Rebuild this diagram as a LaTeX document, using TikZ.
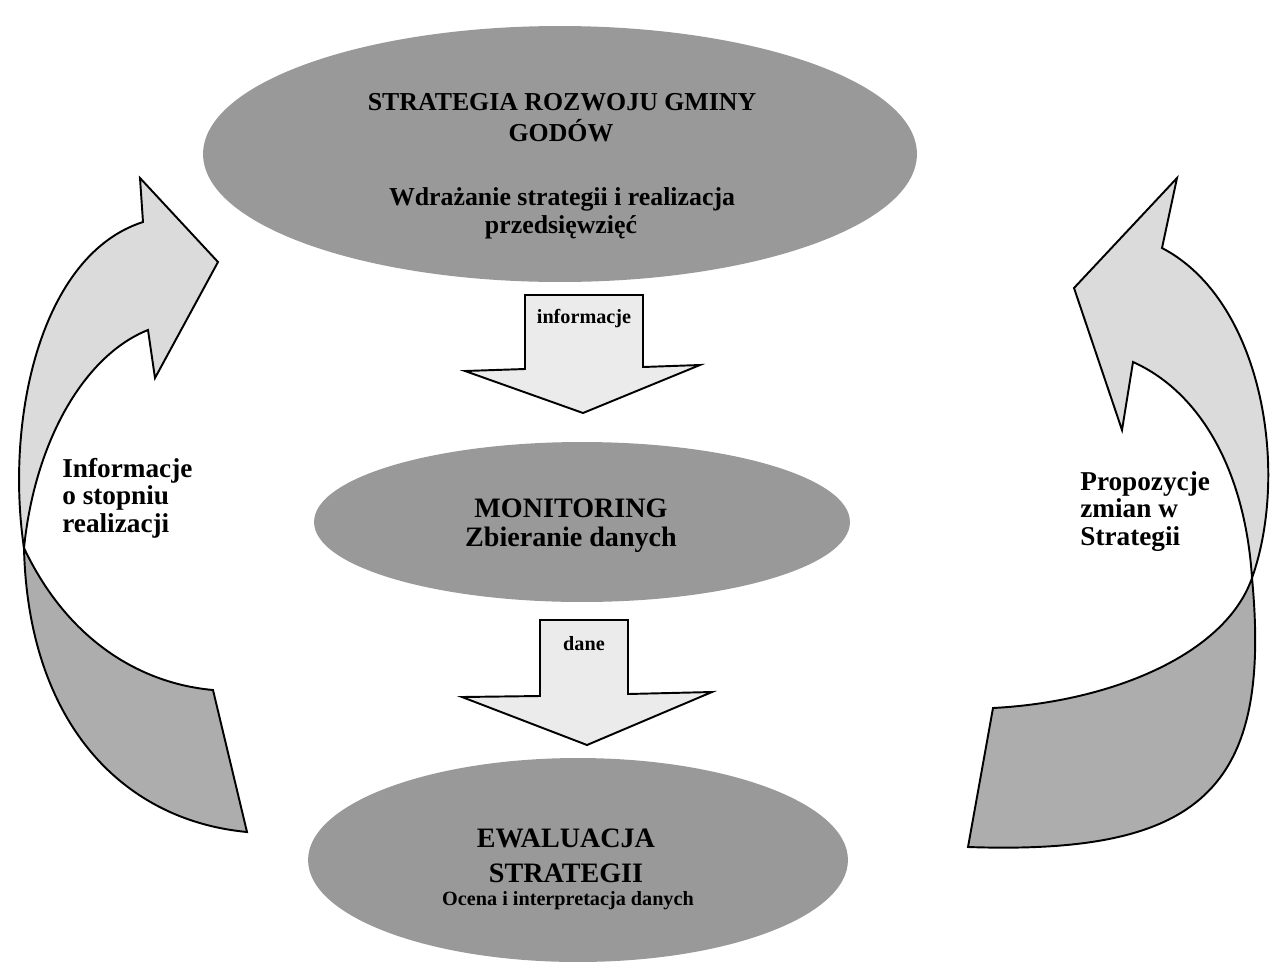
\documentclass[tikz,border=0pt]{standalone}
\usepackage{fontspec}
\setmainfont{Liberation Serif}
\usetikzlibrary{shapes.geometric}
\begin{document}
\begin{tikzpicture}[x=0.02cm,y=-0.02cm,
  ellbox/.style={ellipse, fill=black!40, draw=none, inner sep=0pt},
  txtA/.style={font=\fontsize{14.7}{17}\selectfont\bfseries, inner sep=0pt, anchor=base},
  txtB/.style={font=\fontsize{16}{18}\selectfont\bfseries, inner sep=0pt, anchor=base},
  txtS/.style={font=\fontsize{11.5}{13}\selectfont\bfseries, inner sep=0pt, anchor=base},
  sidetxt/.style={font=\fontsize{15.5}{15.6}\selectfont\bfseries, inner sep=0pt, align=left, anchor=north west},
  blockarrow/.style={draw=black, line width=1.1pt, fill=black!8, line join=miter},
  ribbonlight/.style={draw=black, line width=1.1pt, fill=black!14, line join=miter},
  ribbondark/.style={draw=black, line width=1.1pt, fill=black!32, line join=miter}]
\clip (0,0) rectangle (1270,967);
\fill[white] (0,0) rectangle (1270,967);

% ellipses
\node[ellbox, minimum width=14.28cm, minimum height=5.12cm] (top) at (560,154) {};
\node[ellbox, minimum width=10.72cm, minimum height=3.2cm] (mid) at (582,522) {};
\node[ellbox, minimum width=10.8cm, minimum height=4.08cm] (bot) at (578,860) {};

% texts in ellipses
\node[txtA] (t1) at (562,110) {STRATEGIA ROZWOJU GMINY};
\node[txtA] (t2) at (561,141) {GODÓW};
\node[txtA] (t3) at (562,205) {Wdrażanie strategii i realizacja};
\node[txtA] (t4) at (561,233) {przedsięwzięć};
\node[txtB] (m1) at (571,517) {MONITORING};
\node[txtB] (m2) at (571,546) {Zbieranie danych};
\node[txtB] (b1) at (566,847) {EWALUACJA};
\node[txtB] (b2) at (566,882) {STRATEGII};
\node[txtS] (b3) at (568,905) {Ocena i interpretacja danych};

% straight block arrows
\draw[blockarrow] (525,295) -- (643,295) -- (643,367) -- (700,365) -- (583,413) -- (465,371) -- (525,369) -- cycle;
\node[txtS] (inf) at (584,323) {informacje};
\draw[blockarrow] (540,620) -- (628,620) -- (628,694) -- (712,692) -- (587,745) -- (462,697) -- (540,696) -- cycle;
\node[txtS] (dan) at (584,650) {dane};

% left curved arrow
\draw[ribbondark] (24,548) .. controls (65,635) and (135,683) .. (213,690) -- (247,832)
  .. controls (120,820) and (28,720) .. (24,548) -- cycle;
\draw[ribbonlight] (143,222) -- (140,178) -- (218,262) -- (155,378) -- (148,330)
  .. controls (85,355) and (35,440) .. (24,548)
  .. controls (5,420) and (40,255) .. (143,222) -- cycle;
\node[sidetxt] (lt) at (62,458) {Informacje\\o stopniu\\realizacji};

% right curved arrow
\draw[ribbondark] (1252,578) .. controls (1225,655) and (1110,702) .. (993,708) -- (968,847)
  .. controls (1200,855) and (1272,790) .. (1252,578) -- cycle;
\draw[ribbonlight] (1162,248) -- (1177,178) -- (1074,288) -- (1122,430) -- (1133,362)
  .. controls (1200,392) and (1245,470) .. (1252,578)
  .. controls (1290,470) and (1262,300) .. (1162,248) -- cycle;
\node[sidetxt] (rt) at (1080,471) {Propozycje\\zmian w\\Strategii};
\end{tikzpicture}
\end{document}
